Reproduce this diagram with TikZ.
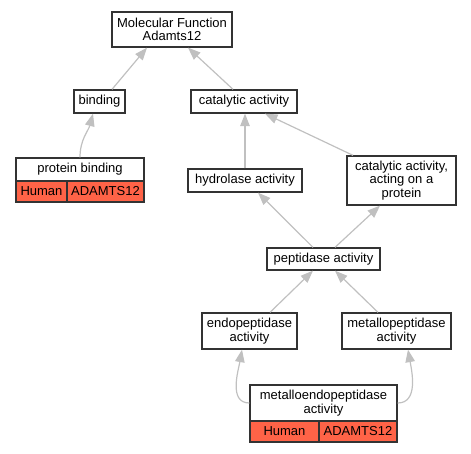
\documentclass[tikz,border=0pt]{standalone}
\usepackage{fontspec}
\setmainfont{Liberation Sans}
\usetikzlibrary{arrows.meta}
\definecolor{edgegray}{HTML}{C0C0C0}
\definecolor{boxline}{HTML}{333333}
\definecolor{tomatored}{HTML}{FF6347}
\begin{document}
\begin{tikzpicture}[x=1pt,y=-1pt,
  box/.style={draw=boxline,line width=1.3pt,fill=white,inner sep=0pt,align=center,
    font=\fontsize{13}{13.3}\selectfont},
  cell/.style={box,fill=tomatored},
  edge/.style={draw=edgegray,line width=1.2pt,-{Triangle[length=12.5pt,width=9.5pt]}}]
\useasboundingbox (0,0) rectangle (471,453);
\node[box,minimum width=120pt,minimum height=35pt] (mf) at (172,29.5) {Molecular Function\\Adamts12};
\node[box,minimum width=51pt,minimum height=23pt] (bind) at (99.5,101.5) {binding};
\node[box,minimum width=106pt,minimum height=23pt] (cat) at (244,101.5) {catalytic activity};
\node[box,minimum width=128pt,minimum height=23pt] (pb) at (80,169.5) {protein binding};
\node[cell,minimum width=51pt,minimum height=21pt] (pbh) at (41.5,191.5) {Human};
\node[cell,minimum width=77pt,minimum height=21pt] (pba) at (105.5,191.5) {ADAMTS12};
\node[box,minimum width=114pt,minimum height=23pt] (hyd) at (245,180.5) {hydrolase activity};
\node[box,minimum width=109pt,minimum height=49pt] (cap) at (401.5,180.5) {catalytic activity,\\acting on a\\protein};
\node[box,minimum width=113pt,minimum height=22pt] (pep) at (323.5,259) {peptidase activity};
\node[box,minimum width=95pt,minimum height=36pt] (endo) at (249.5,331) {endopeptidase\\activity};
\node[box,minimum width=109pt,minimum height=36pt] (met) at (396.5,331) {metallopeptidase\\activity};
\node[box,minimum width=147pt,minimum height=36pt] (me) at (323.5,403) {metalloendopeptidase\\activity};
\node[cell,minimum width=69pt,minimum height=21pt] (meh) at (284.5,431.5) {Human};
\node[cell,minimum width=78pt,minimum height=21pt] (mea) at (358,431.5) {ADAMTS12};

\draw[edge] ([xshift=12.5pt]bind.north) -- ([xshift=-25pt]mf.south);
\draw[edge] ([xshift=-11pt]cat.north) -- ([xshift=16pt]mf.south);
\draw[edge] (pb.north) to[out=90,in=-105] ([xshift=-6.5pt]bind.south);
\draw[edge] (hyd.north) -- (hyd.north |- cat.south);
\draw[edge] ([xshift=-48.5pt]cap.north) -- ([xshift=21pt]cat.south);
\draw[edge] ([xshift=-10.5pt]pep.north) -- ([xshift=13pt]hyd.south);
\draw[edge] ([xshift=11.5pt]pep.north) -- ([xshift=-21.5pt]cap.south);
\draw[edge] ([xshift=20.5pt]endo.north) -- ([xshift=-10.5pt]pep.south);
\draw[edge] ([xshift=-18.5pt]met.north) -- ([xshift=11.5pt]pep.south);
\draw[edge] (me.west) to[out=180,in=-100] ([xshift=-7.5pt]endo.south);
\draw[edge] (me.east) to[out=0,in=-80] ([xshift=11.5pt]met.south);
\end{tikzpicture}
\end{document}
